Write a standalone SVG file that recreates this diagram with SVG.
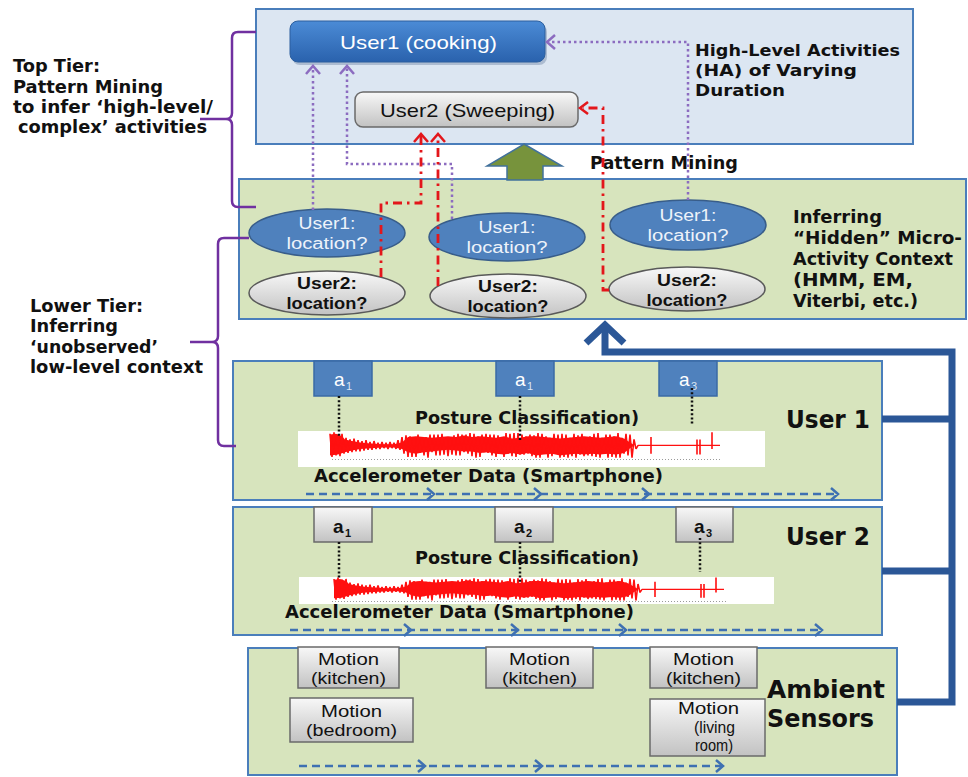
<svg xmlns="http://www.w3.org/2000/svg" width="968" height="777" viewBox="0 0 968 777">
<defs>
<linearGradient id="gGray" x1="0" y1="0" x2="0" y2="1"><stop offset="0" stop-color="#f8f8f8"/><stop offset="1" stop-color="#c2c2c2"/></linearGradient>
<linearGradient id="gBlue" x1="0" y1="0" x2="0" y2="1"><stop offset="0" stop-color="#4b8bd6"/><stop offset="1" stop-color="#2a62ad"/></linearGradient>
<g id="sig">
<path fill="#ff1010" d="M330,447 L330,434 336,433 342,436 345,440 352,442 360,444 370,445 382,446 394,446 402,444 408,437 416,436 424,437 432,438 440,437 448,436 456,437 464,435 472,437 480,436 488,437 496,438 504,436 512,439 520,438 528,436 536,436 544,437 552,438 560,439 568,438 576,437 584,436 592,437 600,438 608,437 616,436 624,439 630,444 634,447 634,448 630,451 624,457 616,459 608,458 600,459 592,458 584,459 576,458 568,459 560,460 552,458 544,459 536,460 528,457 520,459 512,457 504,459 496,458 488,456 480,457 472,455 464,455 456,454 448,453 440,454 432,455 424,456 416,458 408,456 402,452 394,450 382,450 370,451 360,452 352,454 345,456 338,459 330,460 Z"/>
<polyline fill="none" stroke="#ff1010" stroke-width="1.6" stroke-linejoin="bevel" points="330,433 332,462 334,431 336,460 338,434 340,461 342,433 344,458 346,438 348,457 350,440 352,456 354,439 356,455 358,441 360,455 362,442 364,454 366,441 368,453 370,443 372,453 374,442 376,452 378,444 380,452 382,443 384,451 386,444 388,452 390,443 392,451 394,444 396,452 398,441 400,453 402,437 404,458 406,435 408,462 410,436 412,462 414,437 416,462 418,434 420,457 422,437 424,460 426,437 428,463 430,434 432,456 434,434 436,460 438,434 440,460 442,433 444,459 446,438 448,461 450,438 452,459 454,435 456,460 458,433 460,460 462,434 464,456 466,434 468,458 470,432 472,461 474,433 476,463 478,436 480,462 482,434 484,456 486,433 488,457 490,434 492,460 494,434 496,462 498,435 500,456 502,437 504,462 506,432 508,458 510,433 512,461 514,432 516,462 518,432 520,459 522,434 524,459 526,436 528,458 530,434 532,461 534,435 536,463 538,432 540,463 542,433 544,457 546,436 548,463 550,438 552,461 554,433 556,457 558,434 560,463 562,433 564,462 566,434 568,463 570,438 572,461 574,433 576,463 578,435 580,459 582,433 584,461 586,437 588,460 590,436 592,461 594,433 596,462 598,432 600,463 602,438 604,456 606,434 608,463 610,434 612,462 614,436 616,463 618,432 620,463 622,438 624,458 626,433 628,460 630,434 632,463 634,440 636,452 638,447.5 720,447.5"/>
<path stroke="#ff1010" stroke-width="1.6" fill="none" d="M651,437 V458 M697,440 V459 M700,440 V459 M712,431 V452"/>
</g>
</defs>
<style>
.panelB{fill:#dce6f2;stroke:#4a7ebb;stroke-width:2}
.panelG{fill:#d7e4bd;stroke:#4a7ebb;stroke-width:2}
.b{font-family:"DejaVu Sans",sans-serif;font-weight:bold;fill:#111}
.r{font-family:"Liberation Sans",Arial,sans-serif;fill:#111}
.eb{fill:#4f81bd;stroke:#385d8a;stroke-width:1.5}
.eg{fill:url(#gGray);stroke:#595959;stroke-width:1.5}
.gbox{fill:url(#gGray);stroke:#6a6a6a;stroke-width:1.5}
.abox{fill:#4f81bd;stroke:#3a6aa5;stroke-width:1.5}
.wt{fill:#eef3fa}
.dot{stroke:#111;stroke-width:2.5;stroke-dasharray:2 2.2;fill:none}
.pur{stroke:#8c6cc0;stroke-width:2.5;stroke-dasharray:2.5 3;fill:none}
.purh{stroke:#8c6cc0;stroke-width:2.5;fill:none}
.red{stroke:#e3161b;stroke-width:2.8;stroke-dasharray:9 5 2.5 5;fill:none}
.redh{stroke:#e3161b;stroke-width:2.5;fill:none}
.brace{stroke:#7030a0;stroke-width:2.5;fill:none}
.bus{stroke:#2b5797;stroke-width:7;fill:none}
.dash{stroke:#3e70b2;stroke-width:2.5;stroke-dasharray:8 5;fill:none}
.dhead{stroke:#3e70b2;stroke-width:2.5;fill:none}
.tick{stroke:#9a9a9a;stroke-width:1.2;stroke-dasharray:1 2;fill:none}
</style>

<!-- Panels -->
<g id="panel-top"><rect class="panelB" x="256" y="9" width="657" height="135"/></g>
<g id="panel-middle"><rect class="panelG" x="239" y="179" width="727" height="140"/></g>
<g id="panel-user1"><rect class="panelG" x="233" y="361" width="649" height="139"/></g>
<g id="panel-user2"><rect class="panelG" x="233" y="507" width="649" height="128"/></g>
<g id="panel-ambient"><rect class="panelG" x="248" y="648" width="649" height="127"/></g>

<!-- Left labels and braces -->
<g id="label-top-tier">
<path class="brace" d="M256,32 H238 Q232,32 232,38 V113 Q232,119 226,119 H200 M226,119 Q232,119 232,125 V201 Q232,207 238,207 H256"/>
<text class="b" font-size="17" x="13" y="72" textLength="87" lengthAdjust="spacingAndGlyphs">Top Tier:</text>
<text class="b" font-size="17" x="13" y="93" textLength="150" lengthAdjust="spacingAndGlyphs">Pattern Mining</text>
<text class="b" font-size="17" x="13" y="113" textLength="200" lengthAdjust="spacingAndGlyphs">to infer ‘high-level/</text>
<text class="b" font-size="17" x="18" y="133" textLength="189" lengthAdjust="spacingAndGlyphs">complex’ activities</text>
</g>
<g id="label-lower-tier">
<path class="brace" d="M249,238 H224 Q218,238 218,244 V336 Q218,342 212,342 H190 M212,342 Q218,342 218,348 V440 Q218,446 224,446 H236"/>
<text class="b" font-size="17" x="30" y="312" textLength="113" lengthAdjust="spacingAndGlyphs">Lower Tier:</text>
<text class="b" font-size="17" x="30" y="332" textLength="88" lengthAdjust="spacingAndGlyphs">Inferring</text>
<text class="b" font-size="17" x="30" y="353" textLength="128" lengthAdjust="spacingAndGlyphs">‘unobserved’</text>
<text class="b" font-size="17" x="30" y="373" textLength="173" lengthAdjust="spacingAndGlyphs">low-level context</text>
</g>

<!-- Top tier nodes -->
<g id="node-user1-cooking">
<rect x="292" y="24" width="255" height="41" rx="8" fill="#1f3f6e" opacity="0.25"/>
<rect x="290" y="21" width="255" height="41" rx="8" fill="url(#gBlue)" stroke="#2c5f9e" stroke-width="1"/>
<text class="r" font-size="19" x="340" y="49" textLength="157" lengthAdjust="spacingAndGlyphs" style="fill:#ffffff">User1 (cooking)</text>
</g>
<g id="node-user2-sweeping">
<rect x="355" y="92" width="223" height="35" rx="8" class="gbox"/>
<text class="r" font-size="19" x="380" y="117" textLength="175" lengthAdjust="spacingAndGlyphs">User2 (Sweeping)</text>
</g>
<g id="label-ha">
<text class="b" font-size="16.5" x="695" y="56" textLength="205" lengthAdjust="spacingAndGlyphs">High-Level Activities</text>
<text class="b" font-size="16.5" x="695" y="76" textLength="162" lengthAdjust="spacingAndGlyphs">(HA)  of Varying</text>
<text class="b" font-size="16.5" x="695" y="96" textLength="90" lengthAdjust="spacingAndGlyphs">Duration</text>
</g>
<g id="label-pattern-mining">
<text class="b" font-size="17" x="590" y="169" textLength="148" lengthAdjust="spacingAndGlyphs">Pattern Mining</text>
</g>
<g id="arrow-pattern-mining">
<polygon points="524,144 562,166 543,166 543,180 507,180 507,166 487,166" fill="#77933c" stroke="#41719c" stroke-width="1.5"/>
</g>

<!-- Middle tier ellipses -->
<g id="node-u1-loc1">
<ellipse class="eb" cx="327" cy="233" rx="78" ry="24"/>
<text class="r wt" font-size="16" x="327" y="229" text-anchor="middle" textLength="57" lengthAdjust="spacingAndGlyphs">User1:</text>
<text class="r wt" font-size="16" x="327" y="249" text-anchor="middle" textLength="81" lengthAdjust="spacingAndGlyphs">location?</text>
</g>
<g id="node-u1-loc2">
<ellipse class="eb" cx="507" cy="237" rx="78" ry="24"/>
<text class="r wt" font-size="16" x="507" y="233" text-anchor="middle" textLength="57" lengthAdjust="spacingAndGlyphs">User1:</text>
<text class="r wt" font-size="16" x="507" y="253" text-anchor="middle" textLength="81" lengthAdjust="spacingAndGlyphs">location?</text>
</g>
<g id="node-u1-loc3">
<ellipse class="eb" cx="688" cy="225" rx="78" ry="25"/>
<text class="r wt" font-size="16" x="688" y="221" text-anchor="middle" textLength="57" lengthAdjust="spacingAndGlyphs">User1:</text>
<text class="r wt" font-size="16" x="688" y="241" text-anchor="middle" textLength="81" lengthAdjust="spacingAndGlyphs">location?</text>
</g>
<g id="node-u2-loc1">
<ellipse class="eg" cx="327" cy="293" rx="78" ry="22"/>
<text class="r" font-size="16" font-weight="bold" x="327" y="289" text-anchor="middle" textLength="60" lengthAdjust="spacingAndGlyphs">User2:</text>
<text class="r" font-size="16" font-weight="bold" x="327" y="309" text-anchor="middle" textLength="81" lengthAdjust="spacingAndGlyphs">location?</text>
</g>
<g id="node-u2-loc2">
<ellipse class="eg" cx="508" cy="296" rx="78" ry="22"/>
<text class="r" font-size="16" font-weight="bold" x="508" y="292" text-anchor="middle" textLength="60" lengthAdjust="spacingAndGlyphs">User2:</text>
<text class="r" font-size="16" font-weight="bold" x="508" y="312" text-anchor="middle" textLength="81" lengthAdjust="spacingAndGlyphs">location?</text>
</g>
<g id="node-u2-loc3">
<ellipse class="eg" cx="687" cy="289" rx="78" ry="22"/>
<text class="r" font-size="16" font-weight="bold" x="687" y="286" text-anchor="middle" textLength="60" lengthAdjust="spacingAndGlyphs">User2:</text>
<text class="r" font-size="16" font-weight="bold" x="687" y="306" text-anchor="middle" textLength="81" lengthAdjust="spacingAndGlyphs">location?</text>
</g>
<g id="label-hidden">
<text class="b" font-size="17" x="793" y="223" textLength="89" lengthAdjust="spacingAndGlyphs">Inferring</text>
<text class="b" font-size="17" x="793" y="244" textLength="169" lengthAdjust="spacingAndGlyphs">“Hidden” Micro-</text>
<text class="b" font-size="17" x="793" y="265" textLength="160" lengthAdjust="spacingAndGlyphs">Activity Context</text>
<text class="b" font-size="17" x="793" y="286" textLength="120" lengthAdjust="spacingAndGlyphs">(HMM, EM,</text>
<text class="b" font-size="17" x="793" y="307" textLength="125" lengthAdjust="spacingAndGlyphs">Viterbi, etc.)</text>
</g>

<!-- User 1 panel content -->
<g id="node-user1-data">
<rect x="298" y="431" width="467" height="36" fill="#ffffff"/>
<use href="#sig" transform="translate(0,445) scale(1,0.8) translate(0,-447)"/>
<path class="tick" d="M332,459.5 H720"/>
<text class="b" font-size="18" x="415" y="424" textLength="224" lengthAdjust="spacingAndGlyphs">Posture Classification)</text>
<text class="b" font-size="18" x="314" y="482" textLength="349" lengthAdjust="spacingAndGlyphs">Accelerometer Data (Smartphone)</text>
<text class="b" font-size="24" x="786" y="428" textLength="84" lengthAdjust="spacingAndGlyphs">User 1</text>
<path class="dash" d="M306,494 H836"/>
<path class="dhead" d="M427,488 L434,494 L427,500 M534,488 L541,494 L534,500 M642,488 L649,494 L642,500 M831,488 L838,494 L831,500"/>
</g>
<g id="node-u1-a1">
<rect class="abox" x="314" y="361" width="58" height="35"/>
<text class="r" style="fill:#ffffff" font-size="19" x="334" y="386">a</text>
<text class="r" style="fill:#dde6f3" font-size="11" x="346" y="390">1</text>
</g>
<g id="node-u1-a2">
<rect class="abox" x="496" y="361" width="58" height="35"/>
<text class="r" style="fill:#ffffff" font-size="19" x="515" y="386">a</text>
<text class="r" style="fill:#dde6f3" font-size="11" x="527" y="390">1</text>
</g>
<g id="node-u1-a3">
<rect class="abox" x="659" y="361" width="58" height="35"/>
<text class="r" style="fill:#ffffff" font-size="19" x="679" y="386">a</text>
<text class="r" style="fill:#dde6f3" font-size="11" x="691" y="390">3</text>
</g>

<!-- User 2 panel content -->
<g id="node-user2-data">
<rect x="299" y="577" width="475" height="27" fill="#ffffff"/>
<use href="#sig" transform="translate(4,589) scale(1,0.72) translate(0,-447)"/>
<path class="tick" d="M332,601.5 H728"/>
<text class="b" font-size="18" x="415" y="564" textLength="224" lengthAdjust="spacingAndGlyphs">Posture Classification)</text>
<text class="b" font-size="18" x="285" y="618" textLength="349" lengthAdjust="spacingAndGlyphs">Accelerometer Data (Smartphone)</text>
<text class="b" font-size="24" x="786" y="545" textLength="84" lengthAdjust="spacingAndGlyphs">User 2</text>
<path class="dash" d="M290,630 H820"/>
<path class="dhead" d="M404,624 L411,630 L404,636 M511,624 L518,630 L511,636 M619,624 L626,630 L619,636 M815,624 L822,630 L815,636"/>
</g>
<g id="node-u2-a1">
<rect class="gbox" x="314" y="507" width="58" height="35"/>
<text class="r" font-size="19" font-weight="bold" x="333" y="533">a</text>
<text class="r" font-size="11" font-weight="bold" x="345" y="537">1</text>
</g>
<g id="node-u2-a2">
<rect class="gbox" x="495" y="507" width="58" height="35"/>
<text class="r" font-size="19" font-weight="bold" x="514" y="533">a</text>
<text class="r" font-size="11" font-weight="bold" x="526" y="537">2</text>
</g>
<g id="node-u2-a3">
<rect class="gbox" x="676" y="507" width="57" height="35"/>
<text class="r" font-size="19" font-weight="bold" x="694" y="533">a</text>
<text class="r" font-size="11" font-weight="bold" x="706" y="537">3</text>
</g>

<!-- Ambient sensors -->
<g id="node-motion-k1">
<rect class="gbox" x="298" y="647" width="101" height="41"/>
<text class="r" font-size="16" x="348.5" y="665" text-anchor="middle" textLength="61" lengthAdjust="spacingAndGlyphs">Motion</text>
<text class="r" font-size="16" x="348.5" y="684" text-anchor="middle" textLength="75" lengthAdjust="spacingAndGlyphs">(kitchen)</text>
</g>
<g id="node-motion-k2">
<rect class="gbox" x="486" y="647" width="107" height="41"/>
<text class="r" font-size="16" x="539.5" y="665" text-anchor="middle" textLength="61" lengthAdjust="spacingAndGlyphs">Motion</text>
<text class="r" font-size="16" x="539.5" y="684" text-anchor="middle" textLength="75" lengthAdjust="spacingAndGlyphs">(kitchen)</text>
</g>
<g id="node-motion-k3">
<rect class="gbox" x="650" y="647" width="107" height="41"/>
<text class="r" font-size="16" x="703.5" y="665" text-anchor="middle" textLength="61" lengthAdjust="spacingAndGlyphs">Motion</text>
<text class="r" font-size="16" x="703.5" y="684" text-anchor="middle" textLength="75" lengthAdjust="spacingAndGlyphs">(kitchen)</text>
</g>
<g id="node-motion-bedroom">
<rect class="gbox" x="290" y="698" width="123" height="44"/>
<text class="r" font-size="16" x="351.5" y="717" text-anchor="middle" textLength="61" lengthAdjust="spacingAndGlyphs">Motion</text>
<text class="r" font-size="16" x="351.5" y="736" text-anchor="middle" textLength="91" lengthAdjust="spacingAndGlyphs">(bedroom)</text>
</g>
<g id="node-motion-living">
<rect class="gbox" x="650" y="699" width="115" height="57"/>
<text class="r" font-size="16" x="708.5" y="714" text-anchor="middle" textLength="61" lengthAdjust="spacingAndGlyphs">Motion</text>
<text class="r" font-size="16" x="714.5" y="733" text-anchor="middle" textLength="41" lengthAdjust="spacingAndGlyphs">(living</text>
<text class="r" font-size="16" x="714" y="751" text-anchor="middle" textLength="38" lengthAdjust="spacingAndGlyphs">room)</text>
</g>
<g id="label-ambient">
<text class="b" font-size="24" x="767" y="698" textLength="118" lengthAdjust="spacingAndGlyphs">Ambient</text>
<text class="b" font-size="24" x="767" y="727" textLength="107" lengthAdjust="spacingAndGlyphs">Sensors</text>
<path class="dash" d="M299,766 H721"/>
<path class="dhead" d="M418,760 L425,766 L418,772 M535,760 L542,766 L535,772 M716,760 L723,766 L716,772"/>
</g>

<!-- Connectors -->
<g id="connectors">
<path class="pur" d="M313,210 V68"/>
<path class="purh" d="M306,74 L313,66 L320,74"/>
<path class="pur" d="M452,219 V164 H347 V68"/>
<path class="purh" d="M340,74 L347,66 L354,74"/>
<path class="pur" d="M688,200 V42 H549"/>
<path class="purh" d="M555,35 L547,42 L555,49"/>
<path class="red" d="M381,277 V203 H421 V136"/>
<path class="redh" d="M414,142 L421,134 L428,142"/>
<path class="red" d="M438,286 V136"/>
<path class="redh" d="M431,142 L438,134 L445,142"/>
<path class="red" d="M609,290 H603 V108 H583"/>
<path class="redh" d="M588,102 L580,108 L588,114"/>
<path class="dot" d="M339,396 V437"/>
<path class="dot" d="M520,396 V442"/>
<path class="dot" d="M692,388 V425"/>
<path class="dot" d="M339,542 V578"/>
<path class="dot" d="M520,542 V582"/>
<path class="dot" d="M700,538 V572"/>
<path class="bus" d="M605,326 V352 H952 V702 H897 M952,419 H882 M952,571 H882"/>
<path class="bus" d="M586,343 L605,325 L624,343"/>
</g>
</svg>
